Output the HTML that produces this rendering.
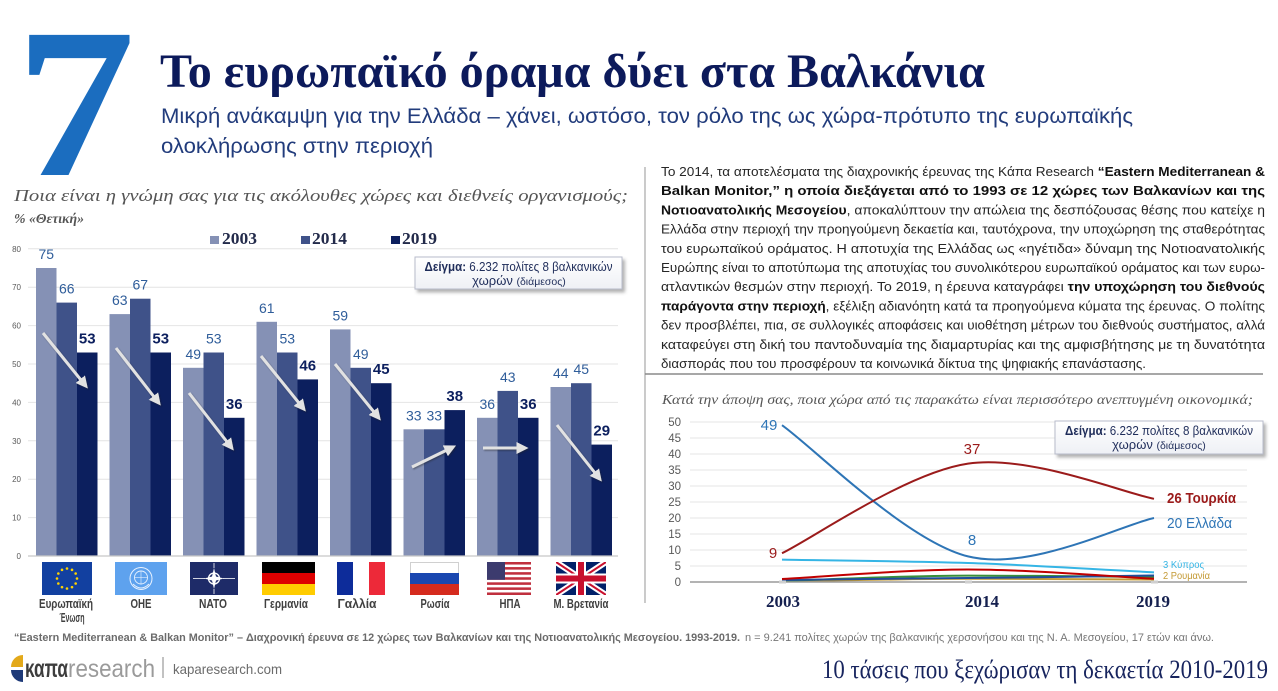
<!DOCTYPE html>
<html><head><meta charset="utf-8"><style>
html,body{margin:0;padding:0;background:#fff;}
svg{display:block;font-family:"Liberation Sans",sans-serif;}
.sf{font-family:"Liberation Serif",serif;}
</style></head><body>
<svg width="1278" height="691" viewBox="0 0 1278 691" xmlns="http://www.w3.org/2000/svg">
<defs>
<marker id="ah" markerWidth="4" markerHeight="4" refX="2.5" refY="2" orient="auto" markerUnits="strokeWidth"><path d="M0,0 L4,2 L0,4 z" fill="#e2e2e2"/></marker>
<filter id="sh" x="-20%" y="-20%" width="140%" height="140%"><feDropShadow dx="1" dy="1.2" stdDeviation="0.8" flood-color="#222" flood-opacity="0.45"/></filter>
<filter id="bs" x="-10%" y="-20%" width="130%" height="160%"><feDropShadow dx="2.5" dy="3" stdDeviation="1.5" flood-color="#555" flood-opacity="0.45"/></filter>
<linearGradient id="bg" x1="0" y1="0" x2="0" y2="1"><stop offset="0" stop-color="#ffffff"/><stop offset="1" stop-color="#eef0f5"/></linearGradient>
<clipPath id="ukc"><rect x="556" y="562" width="50" height="33"/></clipPath>
</defs>

<!-- Header -->
<text transform="translate(15.5,175) scale(1.12,1)" x="0" y="0" class="sf" font-size="214" font-weight="bold" fill="#1b6dbf">7</text>
<text x="160" y="87" class="sf" font-size="48" font-weight="bold" fill="#0c1a5b" textLength="825" lengthAdjust="spacingAndGlyphs">Το ευρωπαϊκό όραμα δύει στα Βαλκάνια</text>
<text x="161" y="123" font-size="21" fill="#223c7c" textLength="972" lengthAdjust="spacingAndGlyphs">Μικρή ανάκαμψη για την Ελλάδα – χάνει, ωστόσο, τον ρόλο της ως χώρα-πρότυπο της ευρωπαϊκής</text>
<text x="161" y="153" font-size="21" fill="#223c7c" textLength="272" lengthAdjust="spacingAndGlyphs">ολοκλήρωσης στην περιοχή</text>

<text x="14" y="201" class="sf" font-style="italic" font-size="17" fill="#555" textLength="614" lengthAdjust="spacingAndGlyphs">Ποια είναι η γνώμη σας για τις ακόλουθες χώρες και διεθνείς οργανισμούς;</text>
<text x="14" y="223" class="sf" font-style="italic" font-weight="bold" font-size="14" fill="#555" textLength="70" lengthAdjust="spacingAndGlyphs">% «Θετική»</text>

<!-- Legend -->
<rect x="210" y="236" width="9" height="8" fill="#8591b5"/>
<text x="222" y="244" class="sf" font-size="17" font-weight="bold" fill="#222a4a" textLength="35" lengthAdjust="spacingAndGlyphs">2003</text>
<rect x="301" y="236" width="9" height="8" fill="#3f5289"/>
<text x="312" y="244" class="sf" font-size="17" font-weight="bold" fill="#222a4a" textLength="35" lengthAdjust="spacingAndGlyphs">2014</text>
<rect x="391" y="236" width="9" height="8" fill="#0c1f5e"/>
<text x="402" y="244" class="sf" font-size="17" font-weight="bold" fill="#222a4a" textLength="35" lengthAdjust="spacingAndGlyphs">2019</text>

<!-- Bar chart grid -->
<g stroke="#e4e4e4" stroke-width="1">
<line x1="28" y1="248.8" x2="618" y2="248.8"/>
<line x1="28" y1="287.2" x2="618" y2="287.2"/>
<line x1="28" y1="325.6" x2="618" y2="325.6"/>
<line x1="28" y1="364" x2="618" y2="364"/>
<line x1="28" y1="402.4" x2="618" y2="402.4"/>
<line x1="28" y1="440.8" x2="618" y2="440.8"/>
<line x1="28" y1="479.2" x2="618" y2="479.2"/>
<line x1="28" y1="517.6" x2="618" y2="517.6"/>
</g>
<g font-size="8" fill="#595959" text-anchor="end">
<text x="21" y="251.8">80</text>
<text x="21" y="290.2">70</text>
<text x="21" y="328.6">60</text>
<text x="21" y="367">50</text>
<text x="21" y="405.4">40</text>
<text x="21" y="443.8">30</text>
<text x="21" y="482.2">20</text>
<text x="21" y="520.6">10</text>
<text x="21" y="559">0</text>
</g>

<!-- Bars -->
<g fill="#8591b5">
<rect x="36" y="268" width="20.5" height="288"/>
<rect x="109.5" y="314.1" width="20.5" height="241.9"/>
<rect x="183" y="367.8" width="20.5" height="188.2"/>
<rect x="256.5" y="321.8" width="20.5" height="234.2"/>
<rect x="330" y="329.4" width="20.5" height="226.6"/>
<rect x="403.5" y="429.3" width="20.5" height="126.7"/>
<rect x="477" y="417.8" width="20.5" height="138.2"/>
<rect x="550.5" y="387" width="20.5" height="169"/>
</g>
<g fill="#3f5289">
<rect x="56.5" y="302.6" width="20.5" height="253.4"/>
<rect x="130" y="298.7" width="20.5" height="257.3"/>
<rect x="203.5" y="352.5" width="20.5" height="203.5"/>
<rect x="277" y="352.5" width="20.5" height="203.5"/>
<rect x="350.5" y="367.8" width="20.5" height="188.2"/>
<rect x="424" y="429.3" width="20.5" height="126.7"/>
<rect x="497.5" y="390.9" width="20.5" height="165.1"/>
<rect x="571" y="383.2" width="20.5" height="172.8"/>
</g>
<g fill="#0c1f5e">
<rect x="77" y="352.5" width="20.5" height="203.5"/>
<rect x="150.5" y="352.5" width="20.5" height="203.5"/>
<rect x="224" y="417.8" width="20.5" height="138.2"/>
<rect x="297.5" y="379.4" width="20.5" height="176.6"/>
<rect x="371" y="383.2" width="20.5" height="172.8"/>
<rect x="444.5" y="410.1" width="20.5" height="145.9"/>
<rect x="518" y="417.8" width="20.5" height="138.2"/>
<rect x="591.5" y="444.6" width="20.5" height="111.4"/>
</g>
<line x1="28" y1="556" x2="618" y2="556" stroke="#c8c8c8" stroke-width="1.2"/>

<!-- Bar labels -->
<g font-size="14" fill="#2f5d9a" text-anchor="middle">
<text x="46.25" y="259">75</text><text x="66.75" y="293.6">66</text>
<text x="119.75" y="305.1">63</text><text x="140.25" y="289.7">67</text>
<text x="193.25" y="358.8">49</text><text x="213.75" y="343.5">53</text>
<text x="266.75" y="312.8">61</text><text x="287.25" y="343.5">53</text>
<text x="340.25" y="320.4">59</text><text x="360.75" y="358.8">49</text>
<text x="413.75" y="420.3">33</text><text x="434.25" y="420.3">33</text>
<text x="487.25" y="408.8">36</text><text x="507.75" y="381.9">43</text>
<text x="560.75" y="378">44</text><text x="581.25" y="374.2">45</text>
</g>
<g font-size="15" font-weight="bold" fill="#0c1f5e" text-anchor="middle">
<text x="87.25" y="343.5">53</text>
<text x="160.75" y="343.5">53</text>
<text x="234.25" y="408.8">36</text>
<text x="307.75" y="370.4">46</text>
<text x="381.25" y="374.2">45</text>
<text x="454.75" y="401.1">38</text>
<text x="528.25" y="408.8">36</text>
<text x="601.75" y="435.6">29</text>
</g>

<!-- Arrows -->
<g stroke="#e2e2e2" stroke-width="3" fill="none" marker-end="url(#ah)" filter="url(#sh)">
<line x1="43" y1="333" x2="85" y2="385"/>
<line x1="116" y1="348" x2="158" y2="402"/>
<line x1="189" y1="393" x2="231" y2="447"/>
<line x1="261" y1="356" x2="303" y2="408"/>
<line x1="335" y1="364" x2="378" y2="417"/>
<line x1="412" y1="467" x2="452" y2="447.5"/>
<line x1="483" y1="448" x2="524" y2="448"/>
<line x1="557" y1="425" x2="599" y2="478"/>
</g>

<!-- Sample box 1 -->
<rect x="415" y="257" width="207" height="32" fill="url(#bg)" stroke="#b8bccb" stroke-width="1" filter="url(#bs)"/>
<text x="518.5" y="271" font-size="13" fill="#1f2d5a" text-anchor="middle" textLength="188" lengthAdjust="spacingAndGlyphs"><tspan font-weight="bold">Δείγμα:</tspan> 6.232 πολίτες 8 βαλκανικών</text>
<text x="519" y="285" font-size="13" fill="#1f2d5a" text-anchor="middle">χωρών <tspan font-size="10.5">(διάμεσος)</tspan></text>

<!-- Flags -->
<rect x="42" y="562" width="50" height="33" fill="#1240a0"/>
<g fill="#ffd400">
<circle cx="77" cy="578.5" r="1.3"/><circle cx="75.66" cy="583.5" r="1.3"/><circle cx="72" cy="587.16" r="1.3"/><circle cx="67" cy="588.5" r="1.3"/><circle cx="62" cy="587.16" r="1.3"/><circle cx="58.34" cy="583.5" r="1.3"/><circle cx="57" cy="578.5" r="1.3"/><circle cx="58.34" cy="573.5" r="1.3"/><circle cx="62" cy="569.84" r="1.3"/><circle cx="67" cy="568.5" r="1.3"/><circle cx="72" cy="569.84" r="1.3"/><circle cx="75.66" cy="573.5" r="1.3"/>
</g>
<rect x="115" y="562" width="52" height="33" fill="#5ea2ee"/>
<g stroke="#e8f2ff" fill="none">
<circle cx="141" cy="578.5" r="11" stroke-width="1"/>
<circle cx="141" cy="577.5" r="6.5" stroke-width="0.9"/>
<line x1="134.5" y1="577.5" x2="147.5" y2="577.5" stroke-width="0.6"/>
<line x1="141" y1="571" x2="141" y2="584" stroke-width="0.6"/>
<path d="M133,584 Q141,592 149,584" stroke-width="0.9"/>
</g>
<rect x="190" y="562" width="48" height="33" fill="#1e2b68"/>
<g stroke="#fff" stroke-width="0.8">
<line x1="193" y1="578.5" x2="205" y2="578.5"/><line x1="223" y1="578.5" x2="235" y2="578.5"/>
<line x1="214" y1="563" x2="214" y2="568"/><line x1="214" y1="589" x2="214" y2="594"/>
</g>
<circle cx="214" cy="578.5" r="5.5" fill="none" stroke="#fff" stroke-width="1.3"/>
<path d="M214,568 L216,576.5 L224,578.5 L216,580.5 L214,589 L212,580.5 L204,578.5 L212,576.5 Z" fill="#fff"/>
<rect x="262" y="562" width="53" height="11" fill="#000"/>
<rect x="262" y="573" width="53" height="11" fill="#dd0000"/>
<rect x="262" y="584" width="53" height="11" fill="#ffcc00"/>
<rect x="337" y="562" width="16" height="33" fill="#0d2c9a"/>
<rect x="353" y="562" width="16" height="33" fill="#fff"/>
<rect x="369" y="562" width="16" height="33" fill="#ed2939"/>
<rect x="410.5" y="562.5" width="48" height="32" fill="#fff" stroke="#d0d0d0"/>
<rect x="410" y="573" width="49" height="11" fill="#1a47b0"/>
<rect x="410" y="584" width="49" height="11" fill="#d52b1e"/>
<rect x="487" y="562" width="44" height="33" fill="#fff"/>
<g fill="#c0303e">
<rect x="487" y="562" width="44" height="2.54"/><rect x="487" y="567.08" width="44" height="2.54"/><rect x="487" y="572.15" width="44" height="2.54"/><rect x="487" y="577.23" width="44" height="2.54"/><rect x="487" y="582.31" width="44" height="2.54"/><rect x="487" y="587.38" width="44" height="2.54"/><rect x="487" y="592.46" width="44" height="2.54"/>
</g>
<rect x="487" y="562" width="18" height="17.8" fill="#3c3b6e"/>
<g clip-path="url(#ukc)">
<rect x="556" y="562" width="50" height="33" fill="#012169"/>
<path d="M556,562 L606,595 M606,562 L556,595" stroke="#fff" stroke-width="6"/>
<path d="M556,562 L606,595 M606,562 L556,595" stroke="#c8102e" stroke-width="2"/>
<path d="M581,562 V595 M556,578.5 H606" stroke="#fff" stroke-width="10"/>
<path d="M581,562 V595 M556,578.5 H606" stroke="#c8102e" stroke-width="6"/>
</g>

<!-- Flag labels -->
<g font-size="13" font-weight="bold" fill="#404040" text-anchor="middle">
<text x="66" y="608" textLength="54" lengthAdjust="spacingAndGlyphs">Ευρωπαϊκή</text>
<text x="72" y="622" textLength="25" lengthAdjust="spacingAndGlyphs">Ένωση</text>
<text x="141" y="608" textLength="21" lengthAdjust="spacingAndGlyphs">ΟΗΕ</text>
<text x="213" y="608" textLength="28" lengthAdjust="spacingAndGlyphs">ΝΑΤΟ</text>
<text x="286" y="608" textLength="44" lengthAdjust="spacingAndGlyphs">Γερμανία</text>
<text x="357" y="608" textLength="39" lengthAdjust="spacingAndGlyphs">Γαλλία</text>
<text x="435" y="608" textLength="29" lengthAdjust="spacingAndGlyphs">Ρωσία</text>
<text x="510" y="608" textLength="21" lengthAdjust="spacingAndGlyphs">ΗΠΑ</text>
<text x="581" y="608" textLength="55" lengthAdjust="spacingAndGlyphs">Μ. Βρετανία</text>
</g>

<!-- Right panel borders -->
<line x1="645" y1="167" x2="645" y2="603" stroke="#a8a8a8" stroke-width="1.2"/>
<line x1="645" y1="374" x2="1263" y2="374" stroke="#8a8a8a" stroke-width="1.5"/>

<!-- Paragraph -->
<g font-size="13" fill="#262626">
<text x="661" y="176" textLength="604" lengthAdjust="spacingAndGlyphs">Το 2014, τα αποτελέσματα της διαχρονικής έρευνας της Κάπα Research <tspan font-weight="bold" fill="#111">“Eastern Mediterranean &amp;</tspan></text>
<text x="661" y="195.2" textLength="604" lengthAdjust="spacingAndGlyphs" font-weight="bold" fill="#111">Balkan Monitor,” η οποία διεξάγεται από το 1993 σε 12 χώρες των Βαλκανίων και της</text>
<text x="661" y="214.4" textLength="604" lengthAdjust="spacingAndGlyphs"><tspan font-weight="bold" fill="#111">Νοτιοανατολικής Μεσογείου</tspan>, αποκαλύπτουν την απώλεια της δεσπόζουσας θέσης που κατείχε η</text>
<text x="661" y="233.6" textLength="604" lengthAdjust="spacingAndGlyphs">Ελλάδα στην περιοχή την προηγούμενη δεκαετία και, ταυτόχρονα, την υποχώρηση της σταθερότητας</text>
<text x="661" y="252.8" textLength="604" lengthAdjust="spacingAndGlyphs">του ευρωπαϊκού οράματος. Η αποτυχία της Ελλάδας ως «ηγέτιδα» δύναμη της Νοτιοανατολικής</text>
<text x="661" y="272" textLength="604" lengthAdjust="spacingAndGlyphs">Ευρώπης είναι το αποτύπωμα της αποτυχίας του συνολικότερου ευρωπαϊκού οράματος και των ευρω-</text>
<text x="661" y="291.2" textLength="604" lengthAdjust="spacingAndGlyphs">ατλαντικών θεσμών στην περιοχή.  Το 2019, η έρευνα καταγράφει <tspan font-weight="bold" fill="#111">την υποχώρηση του διεθνούς</tspan></text>
<text x="661" y="310.4" textLength="604" lengthAdjust="spacingAndGlyphs"><tspan font-weight="bold" fill="#111">παράγοντα στην περιοχή</tspan>, εξέλιξη αδιανόητη κατά τα προηγούμενα κύματα της έρευνας. Ο πολίτης</text>
<text x="661" y="329.6" textLength="604" lengthAdjust="spacingAndGlyphs">δεν προσβλέπει, πια, σε συλλογικές αποφάσεις και υιοθέτηση μέτρων του διεθνούς συστήματος, αλλά</text>
<text x="661" y="348.8" textLength="604" lengthAdjust="spacingAndGlyphs">καταφεύγει στη δική του παντοδυναμία της διαμαρτυρίας και της αμφισβήτησης με τη δυνατότητα</text>
<text x="661" y="368" textLength="485" lengthAdjust="spacingAndGlyphs">διασποράς που του προσφέρουν τα κοινωνικά δίκτυα της ψηφιακής επανάστασης.</text>
</g>

<!-- Line chart -->
<text x="662" y="404" class="sf" font-style="italic" font-size="14" fill="#555" textLength="591" lengthAdjust="spacingAndGlyphs">Κατά την άποψη σας, ποια χώρα από τις παρακάτω είναι περισσότερο ανεπτυγμένη οικονομικά;</text>
<g stroke="#e6e6e6" stroke-width="1">
<line x1="690" y1="422" x2="1247" y2="422"/>
<line x1="690" y1="438" x2="1247" y2="438"/>
<line x1="690" y1="454" x2="1247" y2="454"/>
<line x1="690" y1="470" x2="1247" y2="470"/>
<line x1="690" y1="486" x2="1247" y2="486"/>
<line x1="690" y1="502" x2="1247" y2="502"/>
<line x1="690" y1="518" x2="1247" y2="518"/>
<line x1="690" y1="534" x2="1247" y2="534"/>
<line x1="690" y1="550" x2="1247" y2="550"/>
<line x1="690" y1="566" x2="1247" y2="566"/>
</g>
<g font-size="11.5" fill="#595959" text-anchor="end">
<text x="681" y="426">50</text>
<text x="681" y="442">45</text>
<text x="681" y="458">40</text>
<text x="681" y="474">35</text>
<text x="681" y="490">30</text>
<text x="681" y="506">25</text>
<text x="681" y="522">20</text>
<text x="681" y="538">15</text>
<text x="681" y="554">10</text>
<text x="681" y="570">5</text>
<text x="681" y="586">0</text>
</g>

<!-- Sample box 2 -->
<rect x="1055" y="421" width="208" height="33" fill="url(#bg)" stroke="#b8bccb" stroke-width="1" filter="url(#bs)"/>
<text x="1159" y="435" font-size="13" fill="#1f2d5a" text-anchor="middle" textLength="188" lengthAdjust="spacingAndGlyphs"><tspan font-weight="bold">Δείγμα:</tspan> 6.232 πολίτες 8 βαλκανικών</text>
<text x="1159" y="449" font-size="13" fill="#1f2d5a" text-anchor="middle">χωρών <tspan font-size="10.5">(διάμεσος)</tspan></text>

<g fill="none" stroke-width="2">
<path d="M782,581.5 C813,581 906,578.8 968,578.8 C1030,578.8 1123,579.4 1154,579.5" stroke="#c49a35"/>
<path d="M782,581 C813,580 906,575.6 968,575.6 C1030,575.6 1123,576.8 1154,577" stroke="#3a8f3a"/>
<path d="M782,580 C813,579.6 906,578.4 968,578 C1030,577.6 1123,576 1154,575.5" stroke="#1f4e9a"/>
<path d="M782,579 C813,577.4 906,569.5 968,569.5 C1030,569.5 1123,577.2 1154,578.8" stroke="#c00000"/>
<path d="M782,559.6 C813,560.2 906,561.1 968,563 C1030,564.9 1123,570.8 1154,572.4" stroke="#35b5e5"/>
<path d="M782,425.2 C813,447.1 906,540.9 968,556.4 C1030,571.9 1123,524.4 1154,518" stroke="#2e75b6"/>
<path d="M782,553.2 C813,538.3 906,472.7 968,463.6 C1030,454.5 1123,492.9 1154,498.8" stroke="#9b1b1b"/>
</g>
<line x1="690" y1="582" x2="1247" y2="582" stroke="#9a9a9a" stroke-width="1.5"/>
<rect x="779" y="580.5" width="7" height="3" fill="#cfcfcf"/>
<rect x="965" y="580.5" width="7" height="3" fill="#cfcfcf"/>
<rect x="1151" y="580.5" width="7" height="3" fill="#cfcfcf"/>

<g font-size="15" text-anchor="middle">
<text x="769" y="430" fill="#2e75b6">49</text>
<text x="773" y="558" fill="#9b1b1b">9</text>
<text x="972" y="454" fill="#9b1b1b">37</text>
<text x="972" y="545" fill="#2e75b6">8</text>
</g>
<text x="1167" y="503" font-size="15" font-weight="bold" fill="#9b1b1b" textLength="69" lengthAdjust="spacingAndGlyphs">26  Τουρκία</text>
<text x="1167" y="528" font-size="15" fill="#2e75b6" textLength="65" lengthAdjust="spacingAndGlyphs">20  Ελλάδα</text>
<text x="1163" y="568" font-size="10" fill="#35b5e5" textLength="41" lengthAdjust="spacingAndGlyphs">3  Κύπρος</text>
<text x="1163" y="579" font-size="10" fill="#c49a35" textLength="47" lengthAdjust="spacingAndGlyphs">2  Ρουμανία</text>

<text x="783" y="607" class="sf" font-size="17" font-weight="bold" fill="#15204f" text-anchor="middle">2003</text>
<text x="982" y="607" class="sf" font-size="17" font-weight="bold" fill="#15204f" text-anchor="middle">2014</text>
<text x="1153" y="607" class="sf" font-size="17" font-weight="bold" fill="#15204f" text-anchor="middle">2019</text>

<!-- Footer -->
<text x="14" y="641" font-size="11" font-weight="bold" fill="#6b6b6b" textLength="726" lengthAdjust="spacingAndGlyphs">“Eastern Mediterranean &amp; Balkan Monitor” – Διαχρονική έρευνα σε 12 χώρες των Βαλκανίων και της Νοτιοανατολικής Μεσογείου. 1993-2019.</text>
<text x="745" y="641" font-size="11" fill="#777" textLength="469" lengthAdjust="spacingAndGlyphs">n = 9.241 πολίτες χωρών της βαλκανικής χερσονήσου και της Ν. Α. Μεσογείου, 17 ετών και άνω.</text>

<path d="M23,667 L23,655 A12,12 0 0,0 11,667 Z" fill="#e3a91a"/>
<path d="M23,670 L11,670 A12,12 0 0,0 23,682 Z" fill="#1e3a78"/>
<text x="25" y="677" font-size="25" font-weight="bold" fill="#3d3d3d" textLength="43" lengthAdjust="spacingAndGlyphs">καπα</text>
<text x="68" y="677" font-size="25" fill="#9a9a9a" textLength="87" lengthAdjust="spacingAndGlyphs">research</text>
<line x1="163" y1="657" x2="163" y2="678" stroke="#9a9a9a" stroke-width="1.2"/>
<text x="173" y="674" font-size="14" fill="#6b6b6b" textLength="109" lengthAdjust="spacingAndGlyphs">kaparesearch.com</text>

<text x="822" y="678" class="sf" font-size="26" fill="#17245e" textLength="446" lengthAdjust="spacingAndGlyphs">10 τάσεις που ξεχώρισαν τη δεκαετία 2010-2019</text>
</svg>
</body></html>
